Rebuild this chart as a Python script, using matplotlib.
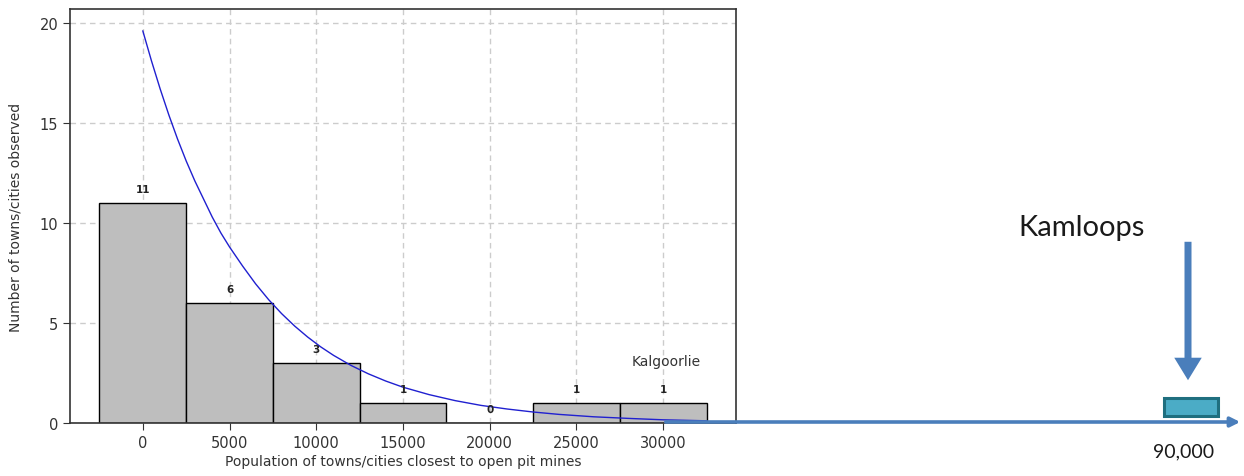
import matplotlib.pyplot as plt
from matplotlib.patches import Rectangle, FancyArrowPatch

# histogram of town/city populations near open pit mines
bin_centers = [0, 5000, 10000, 15000, 20000, 25000, 30000]
counts = [11, 6, 3, 1, 0, 1, 1]
bin_width = 5000

# fitted decay curve
curve_x = [0, 500, 1000, 1500, 2000, 2500, 3000, 3500, 4000, 4500, 5000,
           5750, 6500, 7250, 8000, 8750, 9500, 10250, 11000, 12000, 13000,
           14000, 15000, 16500, 18000, 19500, 21000, 22500, 24000, 26000,
           28000, 30000, 32500]
curve_y = [19.6, 18.1, 16.7, 15.4, 14.2, 13.1, 12.1, 11.2, 10.3, 9.5, 8.8,
           7.85, 6.96, 6.17, 5.47, 4.85, 4.3, 3.81, 3.38, 2.88, 2.46,
           2.1, 1.79, 1.42, 1.12, 0.88, 0.7, 0.55, 0.43, 0.31,
           0.23, 0.16, 0.11]

x_ticks = [0, 5000, 10000, 15000, 20000, 25000, 30000]
y_ticks = [0, 5, 10, 15, 20]

W, H = 1244, 477
fig = plt.figure(figsize=(W / 100, H / 100), dpi=100)
ax = fig.add_axes([70 / W, 53 / H, 666 / W, 414 / H])

ax.bar(bin_centers, counts, width=bin_width, color='#bebebe', edgecolor='black',
       linewidth=1.0, zorder=2)
for x, c in zip(bin_centers, counts):
    ax.text(x, c + 0.7, str(c), ha='center', va='center', fontsize=7.5,
            fontweight='bold', color='#222222', zorder=4)

ax.plot(curve_x, curve_y, color='#2020d0', linewidth=1.0, zorder=3)

ax.set_xlim(-4200, 34200)
ax.set_ylim(0, 20.7)
ax.set_xticks(x_ticks)
ax.set_yticks(y_ticks)
ax.tick_params(labelsize=10.5, length=5, color='#333333', labelcolor='#333333')
ax.grid(True, linestyle=(0, (4, 3)), color='#cccccc', linewidth=1.0, zorder=0)
ax.set_axisbelow(True)
for s in ax.spines.values():
    s.set_color('#333333')
    s.set_linewidth(1.2)

ax.set_xlabel('Population of towns/cities closest to open pit mines', fontsize=10,
              color='#333333', labelpad=3)
ax.set_ylabel('Number of towns/cities observed', fontsize=10, color='#333333',
              labelpad=12)

ax.text(30200, 3.1, 'Kalgoorlie', ha='center', va='center', fontsize=10,
        color='#333333')

# overlay: long axis arrow to Kamloops
blue = '#4a7ebb'
fig.patches.append(FancyArrowPatch((663 / W, 1 - 423 / H), (1243 / W, 1 - 423 / H),
                                   transform=fig.transFigure, arrowstyle='-|>',
                                   mutation_scale=14, color=blue, linewidth=2.6))
fig.patches.append(FancyArrowPatch((1188 / W, 1 - 240 / H), (1188 / W, 1 - 384 / H),
                                   transform=fig.transFigure,
                                   arrowstyle='simple,head_length=0.9,head_width=1.1,tail_width=0.28',
                                   mutation_scale=18, color=blue, linewidth=0))
fig.patches.append(Rectangle((1164 / W, 1 - 417 / H), 54 / W, 18 / H,
                             transform=fig.transFigure, facecolor='#4bacc6',
                             edgecolor='#1f6f7f', linewidth=2.2))

fig.text(1082 / W, 1 - 228 / H, 'Kamloops', ha='center', va='center',
         fontsize=21, family='Lato', color='#1a1a1a')
fig.text(1184 / W, 1 - 452 / H, '90,000', ha='center', va='center',
         fontsize=14, family='Lato', color='#1a1a1a')

fig.savefig('out.png', dpi=100)
